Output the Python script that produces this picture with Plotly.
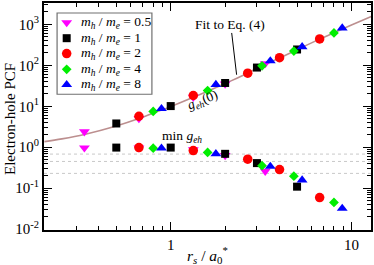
import plotly.graph_objects as go

# ---------------- data ----------------
ratios = ["0.5", "1", "2", "4", "8"]
rs_05 = [0.333, 0.667, 1.333, 2.0, 3.333]
rs_1 = [0.5, 1.0, 2.0, 3.0, 5.0]
rs_2 = [0.667, 1.333, 2.667, 4.0, 6.667]
rs_4 = [0.8, 1.6, 3.2, 4.8, 8.0]
rs_8 = [0.889, 1.778, 3.556, 5.333, 8.889]

g0_05 = [2.39, 5.0, 16.7, 35, 110]
g0_1 = [3.8, 10.1, 37, 88, 243]
g0_2 = [5.7, 18.3, 64, 153, 440]
g0_4 = [7.5, 24.2, 97, 222, 614]
g0_8 = [8.7, 33.8, 128, 282, 810]

gmin_05 = [0.97, 0.97, 0.87, 0.63, 0.26]
gmin_1 = [0.98, 0.98, 0.69, 0.41, 0.109]
gmin_2 = [0.98, 0.83, 0.51, 0.285, 0.059]
gmin_4 = [0.95, 0.745, 0.355, 0.197, 0.045]
gmin_8 = [0.95, 0.69, 0.34, 0.158, 0.032]

fit_rs = [0.2, 0.25, 0.333, 0.5, 0.667, 0.8, 1.0, 1.333, 2.0, 2.667, 3.0, 4.0, 5.0, 6.667, 8.0, 10.0, 13.0]
fit_g = [1.37, 1.6, 2.05, 3.3, 5.0, 6.8, 9.8, 16.5, 36, 64, 85, 150, 240, 435, 620, 960, 1580]

ref_levels = [0.68, 0.45, 0.23]

x_tickvals = [1, 10]
x_ticktext = ["1", "10"]
y_tickvals = [0.01, 0.1, 1, 10, 100, 1000]
y_ticktext = ["10<sup>-2</sup>", "10<sup>-1</sup>", "10<sup>0</sup>",
              "10<sup>1</sup>", "10<sup>2</sup>", "10<sup>3</sup>"]

# ---------------- styles ----------------
FONT = "Liberation Serif"
series = [
    (rs_05, g0_05, gmin_05, "#ff00ff", "triangle-down", 9.5),
    (rs_1, g0_1, gmin_1, "#000000", "square", 8),
    (rs_2, g0_2, gmin_2, "#ff0000", "circle", 9.5),
    (rs_4, g0_4, gmin_4, "#00ee00", "diamond", 7.5),
    (rs_8, g0_8, gmin_8, "#0000ff", "triangle-up", 9.5),
]

XR = [-0.701, 1.108]
YR = [-2.02, 3.52]

fig = go.Figure()

# reference dotted lines
for lv in ref_levels:
    fig.add_trace(go.Scatter(x=[10 ** XR[0], 10 ** XR[1]], y=[lv, lv], mode="lines",
                             line=dict(color="#c8c8c8", width=1, dash="dot"),
                             showlegend=False, hoverinfo="skip"))

# fit curve
fig.add_trace(go.Scatter(x=fit_rs, y=fit_g, mode="lines", line_shape="spline",
                         line=dict(color="#bc8f8f", width=1.6),
                         name="Fit to Eq. (4)", showlegend=False))

for (rs, g0, gm, col, sym, sz), r in zip(series, ratios):
    mk = dict(color=col, symbol=sym, size=sz, line=dict(width=0))
    fig.add_trace(go.Scatter(x=rs, y=g0, mode="markers", marker=mk,
                             name=f"m_h/m_e = {r}", showlegend=False))
    fig.add_trace(go.Scatter(x=rs, y=gm, mode="markers", marker=mk,
                             name=f"min g_eh, m_h/m_e = {r}", showlegend=False))

# ---------------- manual legend ----------------
L_X0, L_X1, L_Y0, L_Y1 = 0.040, 0.330, 0.598, 0.956
row_y = [0.914, 0.845, 0.777, 0.708, 0.640]
mark_x = 0.0694
text_x = 0.108

fig.add_shape(type="rect", xref="paper", yref="paper", x0=L_X0, x1=L_X1, y0=L_Y0, y1=L_Y1,
              line=dict(color="#707070", width=1.2), fillcolor="white", layer="below")

for (rs, g0, gm, col, sym, sz), r, yy in zip(series, ratios, row_y):
    fig.add_trace(go.Scatter(x=[mark_x], y=[yy], xaxis="x2", yaxis="y2", mode="markers",
                             marker=dict(color=col, symbol=sym, size=sz, line=dict(width=0)),
                             showlegend=False, hoverinfo="skip"))
    fig.add_annotation(x=text_x, y=yy, xref="paper", yref="paper", xanchor="left",
                       yanchor="middle", showarrow=False,
                       text=f"<i>m</i><sub><i>h</i></sub> / <i>m</i><sub><i>e</i></sub> = {r}",
                       font=dict(family=FONT, size=13.5, color="black"))

# ---------------- annotations ----------------
def note(x, y, text, size=13, angle=0):
    fig.add_annotation(x=x, y=y, xref="paper", yref="paper", xanchor="center", yanchor="middle",
                       showarrow=False, text=text, textangle=angle,
                       font=dict(family=FONT, size=size, color="black"))

note(0.569, 0.904, "Fit to Eq. (4)", 13.5)
fig.add_shape(type="line", xref="paper", yref="paper", x0=0.574, y0=0.868, x1=0.589, y1=0.684,
              line=dict(color="black", width=1))
note(0.486, 0.572, "<i>g</i><sub><i>eh</i></sub>(0)", 13.5, -22)
note(0.422, 0.412, "min <i>g</i><sub><i>eh</i></sub>", 13.5)
note(-0.104, 0.489, "Electron-hole PCF", 15, -90)
note(0.5015, -0.109, "<i>r</i><sub><i>s</i></sub> / <i>a</i><sub>0</sub><sup>*</sup>", 15.5)

x_minor = [m * 10 ** d for d in (-1, 0, 1) for m in range(2, 10)]
y_minor = [m * 10 ** d for d in (-2, -1, 0, 1, 2, 3) for m in range(2, 10)]

axis_common = dict(showgrid=False, zeroline=False, showline=True, linecolor="black", linewidth=2,
                   mirror="ticks", ticks="inside", ticklen=8, tickwidth=1.2, tickcolor="black",
                   tickfont=dict(family=FONT, size=15, color="black"))

fig.update_layout(
    width=374, height=265,
    margin=dict(l=44, r=3, t=1, b=35),
    paper_bgcolor="white", plot_bgcolor="white",
    showlegend=False,
    xaxis=dict(type="log", range=XR, tickmode="array", tickvals=x_tickvals, ticktext=x_ticktext,
               minor=dict(tickmode="array", tickvals=x_minor, ticks="inside", ticklen=4,
                          tickwidth=1, tickcolor="black", showgrid=False),
               **axis_common),
    yaxis=dict(type="log", range=YR, tickmode="array", tickvals=y_tickvals, ticktext=y_ticktext,
               minor=dict(tickmode="array", tickvals=y_minor, ticks="inside", ticklen=4,
                          tickwidth=1, tickcolor="black", showgrid=False),
               **axis_common),
    xaxis2=dict(overlaying="x", range=[0, 1], visible=False, fixedrange=True),
    yaxis2=dict(overlaying="y", range=[0, 1], visible=False, fixedrange=True),
)

fig.write_html("out.html", config={"displayModeBar": False},
               post_script="document.body.style.margin='0px';document.body.style.padding='0px';")
